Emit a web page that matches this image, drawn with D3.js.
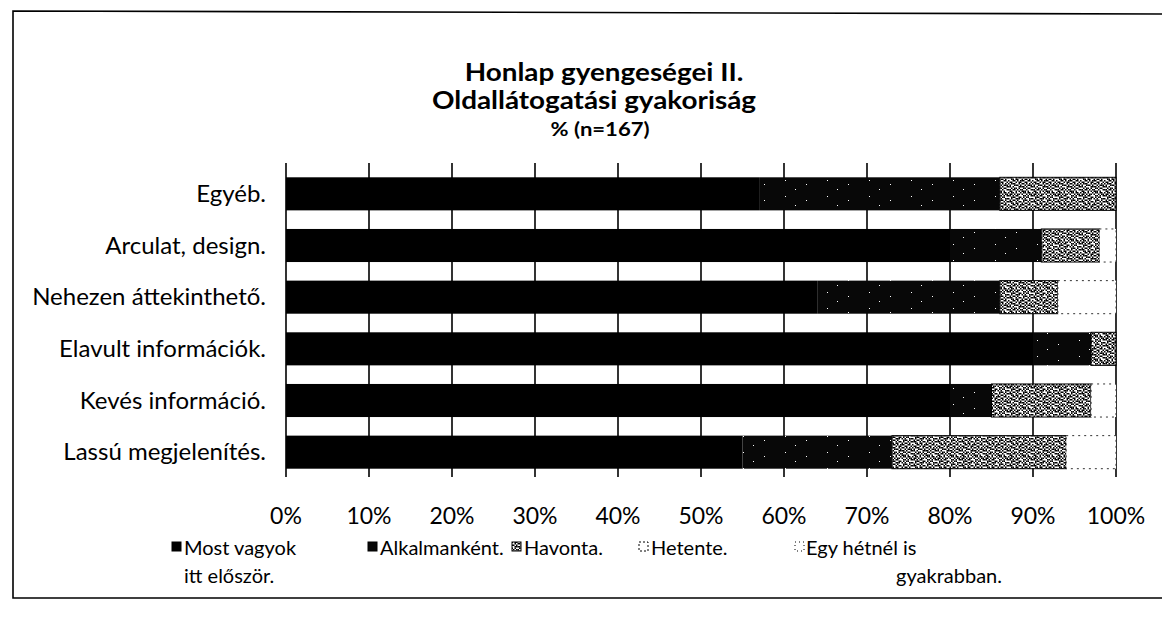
<!DOCTYPE html>
<html><head><meta charset="utf-8">
<script src="https://cdn.jsdelivr.net/npm/d3@7"></script>
<style>
html,body{margin:0;padding:0;background:#fff;}
svg text{font-family:Lato,"Open Sans",sans-serif;fill:#000;}
</style></head>
<body>
<svg id="chart" width="1162" height="627"></svg>
<script>
const categories = ["Egyéb.", "Arculat, design.", "Nehezen áttekinthető.", "Elavult információk.", "Kevés információ.", "Lassú megjelenítés."];
const mostVagyok = [57, 80, 64, 90, 80, 55];
const alkalmankent = [29, 11, 22, 7, 5, 18];
const havonta = [14, 7, 7, 3, 12, 21];
const hetente = [0, 2, 7, 0, 3, 6];
const egyHetnel = [0, 0, 0, 0, 0, 0];
const seriesNames = ["Most vagyok itt először.", "Alkalmanként.", "Havonta.", "Hetente.", "Egy hétnél is gyakrabban."];
const tickValues = [0, 10, 20, 30, 40, 50, 60, 70, 80, 90, 100];
const titleLines = ["Honlap gyengeségei II.", "Oldallátogatási gyakoriság", "% (n=167)"];

const svg = d3.select("#chart");
const defs = svg.append("defs");

function bitmapPattern(id, rows, bg, fg, cell) {
  const p = defs.append("pattern").attr("id", id).attr("patternUnits", "userSpaceOnUse")
    .attr("width", rows[0].length * cell).attr("height", rows.length * cell);
  p.append("rect").attr("width", rows[0].length * cell).attr("height", rows.length * cell).attr("fill", bg);
  rows.forEach((r, i) => r.split("").forEach((c, j) => {
    if (c === "1") p.append("rect").attr("x", j * cell).attr("y", i * cell).attr("width", cell).attr("height", cell).attr("fill", fg);
  }));
}
bitmapPattern("pHav", [
  "1011010010110110",
  "0110101101001011",
  "1101011000110101",
  "0011100110101100",
  "1010011101010011",
  "0101101000111010",
  "1110010110100101",
  "0011011001011010",
  "1001101011100110",
  "0110010110011001",
  "1011100101101010",
  "0100111010010111",
  "1101000111101001",
  "0010110100110110",
  "1101101011001001",
  "0110010101110100"], "#fff", "#000", 1.5);
bitmapPattern("pAlk", [
  "000000000000000000000000000000000000000000",
  "000000000000000000000000000000000000000000",
  "000000000000000000000000000000000000000000",
  "000000000000000000000000000000000000000000",
  "000000000000000000000000000001000000000000",
  "000000000000000000000000000000000000000000",
  "000000000000000000000000000000000000000000",
  "000000000000000000000000000000000000000000",
  "000000001000000000000000000000000000000000",
  "000000000000000000000000000000000000000000",
  "000000000000000000000000000000000000000000",
  "000000000000000000000000000000000000000000",
  "000000000000000000000000000000000000000000",
  "000000000000000000000000000000000000000100",
  "000000000000000000000000000000000000000000",
  "000000000000000000000000000000000000000000"], "#080808", "#fff", 1);

const margin = {left: 286, right: 1116, top: 168, bottom: 478};
const x = d3.scaleLinear().domain([0, 100]).range([margin.left, margin.right]);
const y = d3.scaleBand().domain(categories).range([margin.top, margin.bottom]).paddingInner(0.36).paddingOuter(0.18);

// outer frame
svg.append("path").attr("d", "M1162,14 L13,11 L13,598 L1162,598").attr("fill", "none").attr("stroke", "#000").attr("stroke-width", 1.6);

// title (slightly widened glyphs, as in the scan)
const tg = svg.append("g").attr("text-anchor", "middle").attr("font-weight", "bold");
const titleSpecs = [{x: 604, y: 81, fs: 24}, {x: 594, y: 109, fs: 24}, {x: 600, y: 136, fs: 19}];
titleSpecs.forEach((s, i) => {
  const t = tg.append("text").attr("x", s.x).attr("y", s.y).attr("font-size", s.fs).text(titleLines[i]);
  const w = t.node().getComputedTextLength();
  t.attr("textLength", w * 1.16).attr("lengthAdjust", "spacingAndGlyphs");
});

// gridlines
svg.append("g").selectAll("line").data(tickValues).join("line")
  .attr("x1", d => x(d)).attr("x2", d => x(d))
  .attr("y1", margin.top - 5).attr("y2", margin.bottom - 1)
  .attr("stroke", "#000").attr("stroke-width", 1.6);

// stacked bars
const table = categories.map((c, i) => ({cat: c, s0: mostVagyok[i], s1: alkalmankent[i], s2: havonta[i], s3: hetente[i], s4: egyHetnel[i]}));
const stack = d3.stack().keys(["s0", "s1", "s2", "s3", "s4"])(table);
const fills = ["#000", "url(#pAlk)", "url(#pHav)", "#fff", "#fff"];
const layers = svg.append("g").selectAll("g").data(stack).join("g");
layers.each(function(layer, k) {
  d3.select(this).selectAll("rect").data(layer.filter(d => d[1] - d[0] > 0)).join("rect")
    .attr("x", d => x(d[0])).attr("width", d => x(d[1]) - x(d[0]))
    .attr("y", d => y(d.data.cat)).attr("height", y.bandwidth())
    .attr("fill", fills[k])
    .attr("stroke", k === 2 ? "#000" : (k >= 3 ? "#333" : "none"))
    .attr("stroke-width", 1)
    .attr("stroke-dasharray", k >= 3 ? "2,4" : null);
});

// category labels
svg.append("g").attr("text-anchor", "end").selectAll("text").data(categories).join("text")
  .attr("x", 266).attr("y", d => y(d) + y.bandwidth() / 2 + 8)
  .attr("font-size", 24).text(d => d);

// x tick labels
svg.append("g").attr("text-anchor", "middle").selectAll("text").data(tickValues).join("text")
  .attr("x", d => x(d)).attr("y", 524).attr("font-size", 23).text(d => d + "%");

// legend
const legendItems = [
  {sx: 172, tx: 184, lines: ["Most vagyok", "itt először."], fill: "#000", dash: null},
  {sx: 368, tx: 380, lines: ["Alkalmanként."], fill: "url(#pAlk)", dash: null},
  {sx: 512, tx: 524, lines: ["Havonta."], fill: "url(#pHav)", dash: null},
  {sx: 639, tx: 651, lines: ["Hetente."], fill: "#fff", dash: "2,2"},
  {sx: 795, tx: 806, lines: ["Egy hétnél is", "gyakrabban."], fill: "#fff", dash: "1,3"}
];
legendItems.forEach((it, i) => {
  const g = svg.append("g");
  g.append("rect").attr("x", it.sx).attr("y", 542).attr("width", 9).attr("height", 9)
    .attr("fill", it.fill).attr("stroke", "#000").attr("stroke-width", 1).attr("stroke-dasharray", it.dash);
  g.append("text").attr("x", it.tx).attr("y", 555).attr("font-size", 20).text(it.lines[0]);
  if (it.lines[1]) {
    g.append("text").attr("x", i === 4 ? 1002 : it.tx).attr("text-anchor", i === 4 ? "end" : "start")
      .attr("y", 583).attr("font-size", 20).text(it.lines[1]);
  }
});
</script>
</body></html>
